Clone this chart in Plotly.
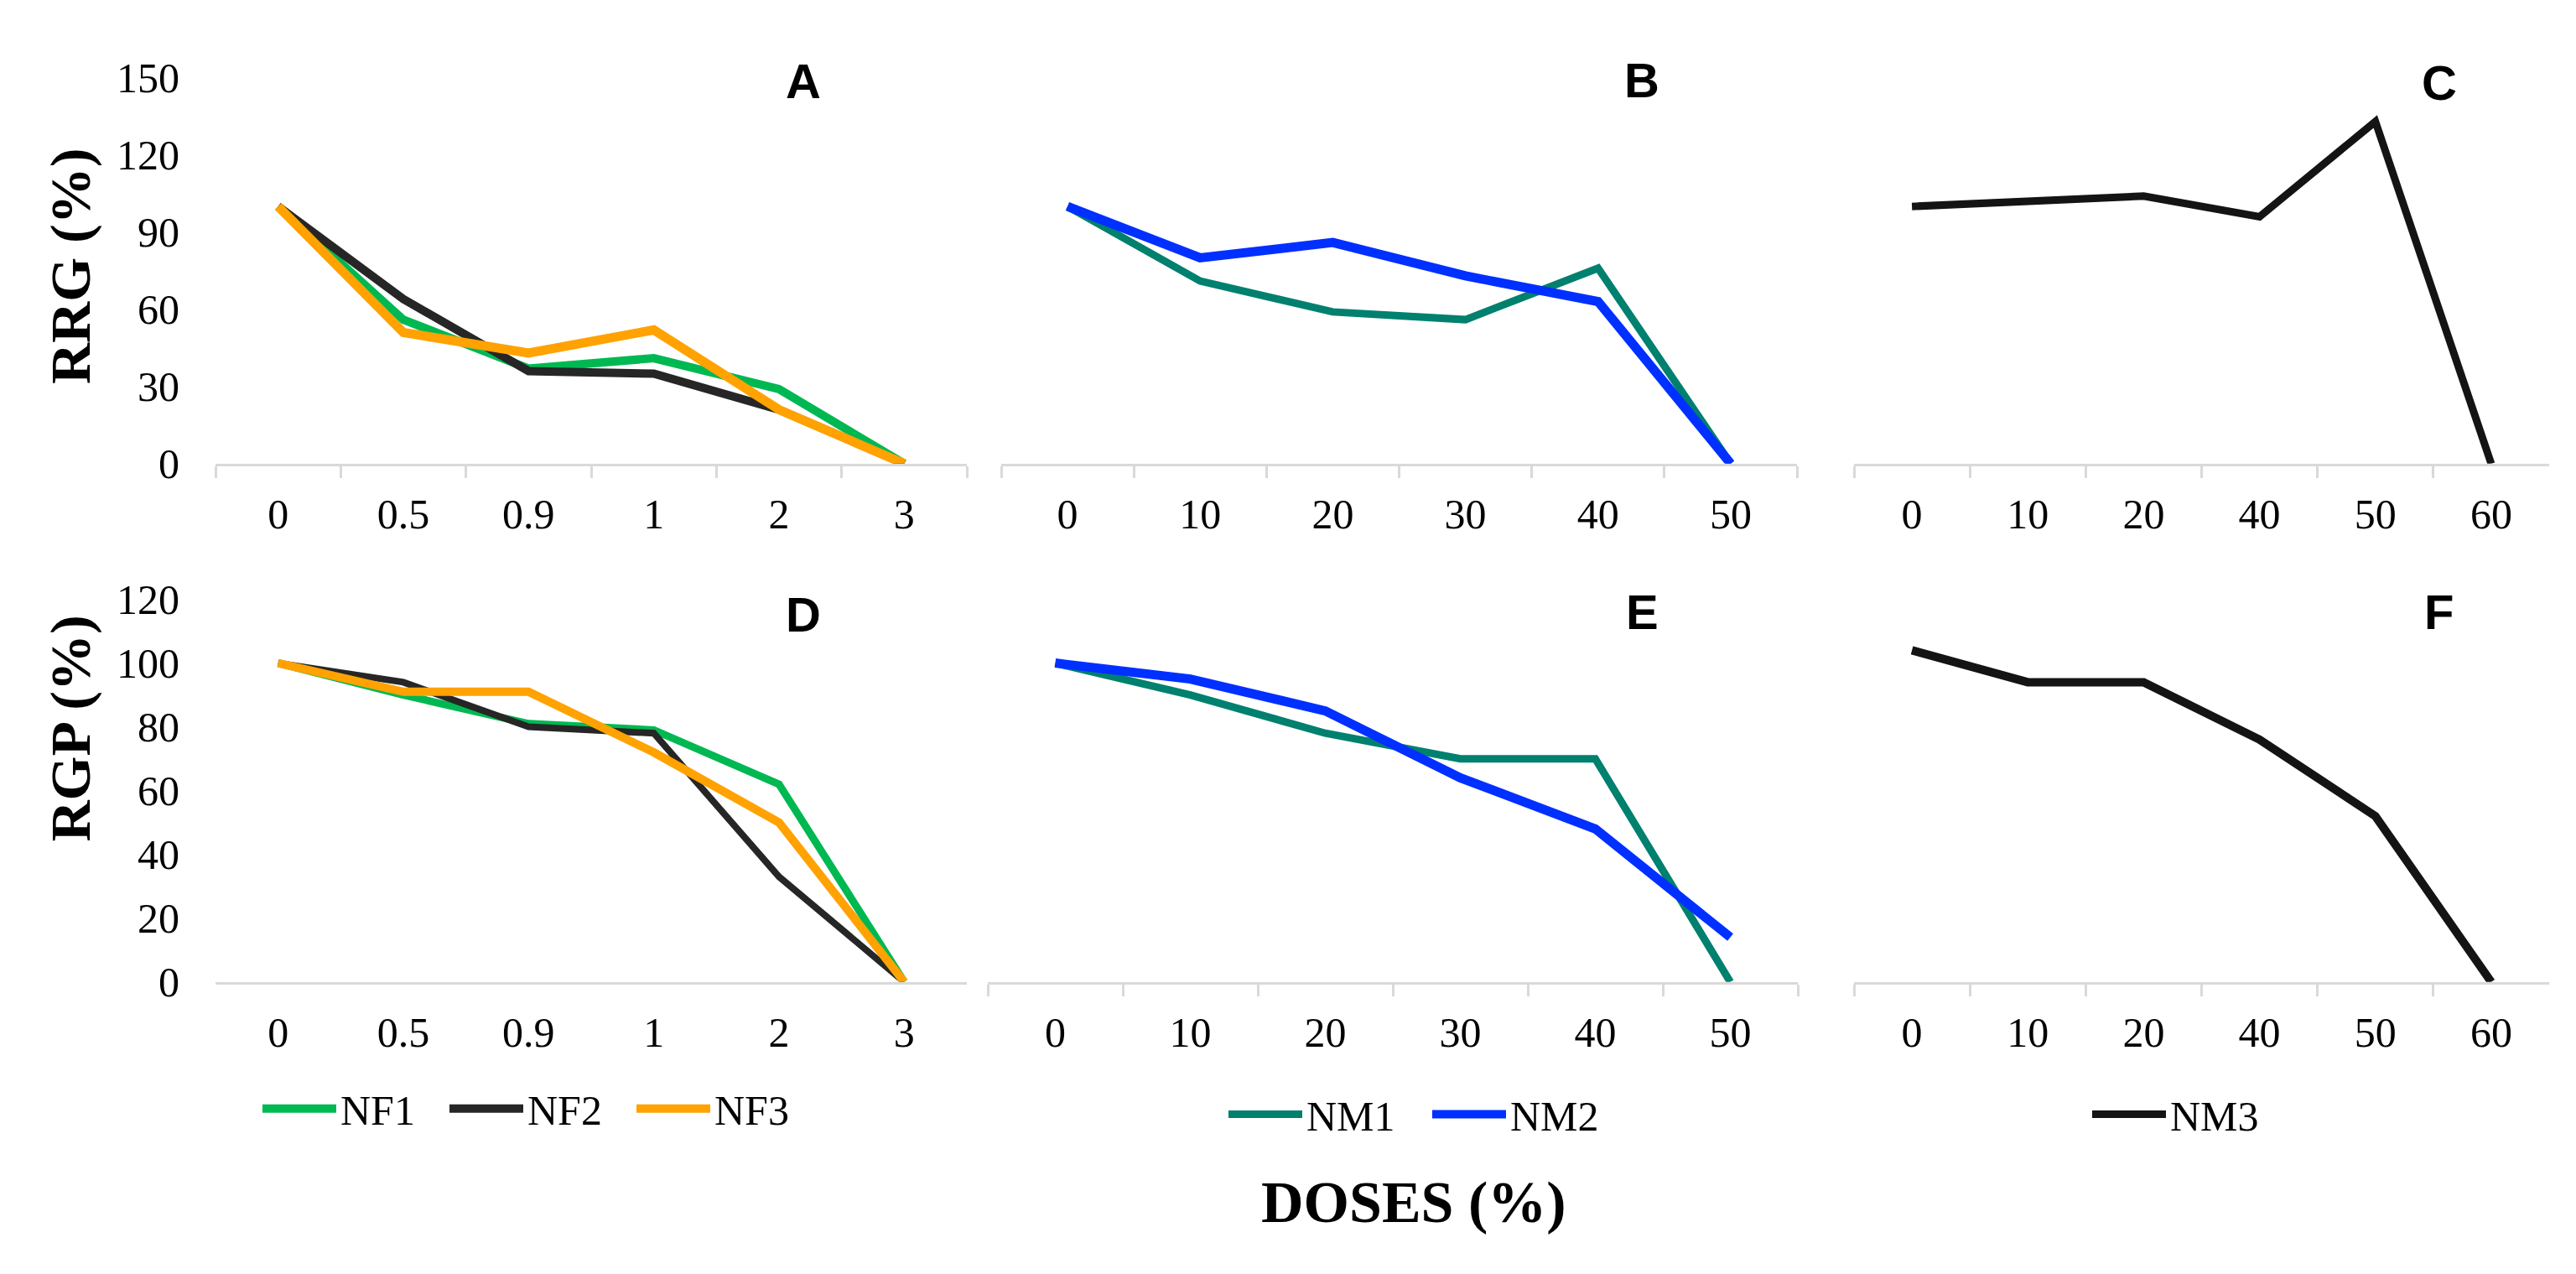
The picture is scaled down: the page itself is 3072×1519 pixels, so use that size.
import plotly.graph_objects as go

# categorias (dosis) de cada panel
doses_nf = ["0", "0.5", "0.9", "1", "2", "3"]
doses_nm = ["0", "10", "20", "30", "40", "50"]
doses_nm3 = ["0", "10", "20", "40", "50", "60"]

# RRG (%)
rrg_nf1 = [100, 56, 37, 41, 29, 0]
rrg_nf2 = [100, 64, 36, 35, 21, 0]
rrg_nf3 = [100, 51, 43, 52, 21, 0]
rrg_nm1 = [100, 71, 59, 56, 76, 0]
rrg_nm2 = [100, 80, 86, 73, 63, 0]
rrg_nm3 = [100, 102, 104, 96, 133, 0]

# RGP (%)
rgp_nf1 = [100, 90, 81, 79, 62, 0]
rgp_nf2 = [100, 94, 80, 78, 33, 0]
rgp_nf3 = [100, 91, 91, 72, 50, 0]
rgp_nm1 = [100, 90, 78, 70, 70, 0]
rgp_nm2 = [100, 95, 85, 64, 48, 14]
rgp_nm3 = [104, 94, 94, 76, 52, 0]

W, H = 3072, 1519
SERIF = "Liberation Serif"
GRID = "#d9d9d9"

c_nf1 = "#00b852"
c_nf2 = "#262626"
c_nf3 = "#ffa202"
c_nm1 = "#00806e"
c_nm2 = "#0030ff"
c_nm3 = "#141414"

fig = go.Figure()

def add(x, y, name, color, width, ax, legend, show):
    fig.add_trace(go.Scatter(x=x, y=y, name=name, mode="lines",
                             line=dict(color=color, width=width),
                             xaxis="x" + ax, yaxis="y" + ax,
                             legend=legend, showlegend=show))

# fila superior
add(doses_nf, rrg_nf1, "NF1", c_nf1, 10, "", "legend", True)
add(doses_nf, rrg_nf2, "NF2", c_nf2, 10, "", "legend", True)
add(doses_nf, rrg_nf3, "NF3", c_nf3, 11, "", "legend", True)
add(doses_nm, rrg_nm1, "NM1", c_nm1, 9, "2", "legend2", True)
add(doses_nm, rrg_nm2, "NM2", c_nm2, 11, "2", "legend2", True)
add(doses_nm3, rrg_nm3, "NM3", c_nm3, 9, "3", "legend3", True)
# fila inferior
add(doses_nf, rgp_nf1, "NF1", c_nf1, 9, "4", "legend", False)
add(doses_nf, rgp_nf2, "NF2", c_nf2, 8, "4", "legend", False)
add(doses_nf, rgp_nf3, "NF3", c_nf3, 10, "4", "legend", False)
add(doses_nm, rgp_nm1, "NM1", c_nm1, 9, "5", "legend2", False)
add(doses_nm, rgp_nm2, "NM2", c_nm2, 11, "5", "legend2", False)
add(doses_nm3, rgp_nm3, "NM3", c_nm3, 10, "6", "legend3", False)

def px(x0, x1):
    return [x0 / W, x1 / W]

def py(y_top, y_bot):
    return [1 - y_bot / H, 1 - y_top / H]

row1 = py(59, 537)
row2 = py(705, 1179)
cols = [px(249, 1145), px(1186, 2135), px(2203, 3032)]
cols2 = [px(249, 1145), px(1170, 2136), px(2203, 3032)]

def xax(dom, anchor, ticks=True):
    return dict(domain=dom, anchor=anchor, type="category", range=[-0.5, 5.5],
                showline=True, linecolor=GRID, linewidth=3, showgrid=False,
                zeroline=False, ticks="outside" if ticks else "",
                tickson="boundaries", ticklen=14, tickwidth=3, tickcolor=GRID,
                ticklabelstandoff=14,
                tickfont=dict(family=SERIF, size=50, color="black"),
                fixedrange=True)

def yax(dom, anchor, rng, dtick, labels):
    return dict(domain=dom, anchor=anchor, range=rng, dtick=dtick,
                showline=False, showgrid=False, zeroline=False,
                showticklabels=labels, ticks="", ticklabelstandoff=42,
                tickfont=dict(family=SERIF, size=50, color="black"),
                fixedrange=True)

layout = dict(
    width=W, height=H,
    margin=dict(l=0, r=0, t=0, b=0),
    paper_bgcolor="white", plot_bgcolor="white",
    showlegend=True,
)
layout["xaxis"] = xax(cols[0], "y")
layout["xaxis2"] = xax(cols[1], "y2")
layout["xaxis3"] = xax(cols[2], "y3")
layout["xaxis4"] = xax(cols2[0], "y4", ticks=False)
layout["xaxis5"] = xax(cols2[1], "y5")
layout["xaxis6"] = xax(cols2[2], "y6")
layout["yaxis"] = yax(row1, "x", [0, 150], 30, True)
layout["yaxis2"] = yax(row1, "x2", [0, 150], 30, False)
layout["yaxis3"] = yax(row1, "x3", [0, 150], 30, False)
layout["yaxis4"] = yax(row2, "x4", [0, 120], 20, True)
layout["yaxis5"] = yax(row2, "x5", [0, 120], 20, False)
layout["yaxis6"] = yax(row2, "x6", [0, 120], 20, False)

leg_font = dict(family=SERIF, size=50, color="black")
layout["legend"] = dict(orientation="h", x=300 / W, y=1 - 1336 / H, xanchor="left",
                        yanchor="middle", font=leg_font, bgcolor="rgba(0,0,0,0)",
                        entrywidth=120, entrywidthmode="pixels", itemwidth=88)
layout["legend2"] = dict(orientation="h", x=1452 / W, y=1 - 1343 / H, xanchor="left",
                         yanchor="middle", font=leg_font, bgcolor="rgba(0,0,0,0)",
                         entrywidth=140, entrywidthmode="pixels", itemwidth=88)
layout["legend3"] = dict(orientation="h", x=2482 / W, y=1 - 1343 / H, xanchor="left",
                         yanchor="middle", font=leg_font, bgcolor="rgba(0,0,0,0)",
                         itemwidth=88)
fig.update_layout(layout)

# letras de los paneles
letters = [("A", 950, 63), ("B", 1950, 62), ("C", 2901, 65),
           ("D", 950, 724), ("E", 1950, 721), ("F", 2900, 721)]
for txt, lx, ly in letters:
    fig.add_annotation(text="<b>" + txt + "</b>", x=lx / W, y=1 - ly / H,
                       xref="paper", yref="paper", showarrow=False,
                       xanchor="center", yanchor="middle",
                       font=dict(family="Liberation Sans", size=58, color="black"))

# titulos de ejes
fig.add_annotation(text="<b>RRG (%)</b>", x=76 / W, y=1 - 293 / H, xref="paper", yref="paper",
                   showarrow=False, textangle=-90, xanchor="center", yanchor="middle",
                   font=dict(family=SERIF, size=68, color="black"))
fig.add_annotation(text="<b>RGP (%)</b>", x=76 / W, y=1 - 865 / H, xref="paper", yref="paper",
                   showarrow=False, textangle=-90, xanchor="center", yanchor="middle",
                   font=dict(family=SERIF, size=68, color="black"))
fig.add_annotation(text="<b>DOSES (%)</b>", x=1678 / W, y=1 - 1452 / H, xref="paper", yref="paper",
                   showarrow=False, xanchor="center", yanchor="middle",
                   font=dict(family=SERIF, size=70, color="black"))

fig.write_html("out.html")
